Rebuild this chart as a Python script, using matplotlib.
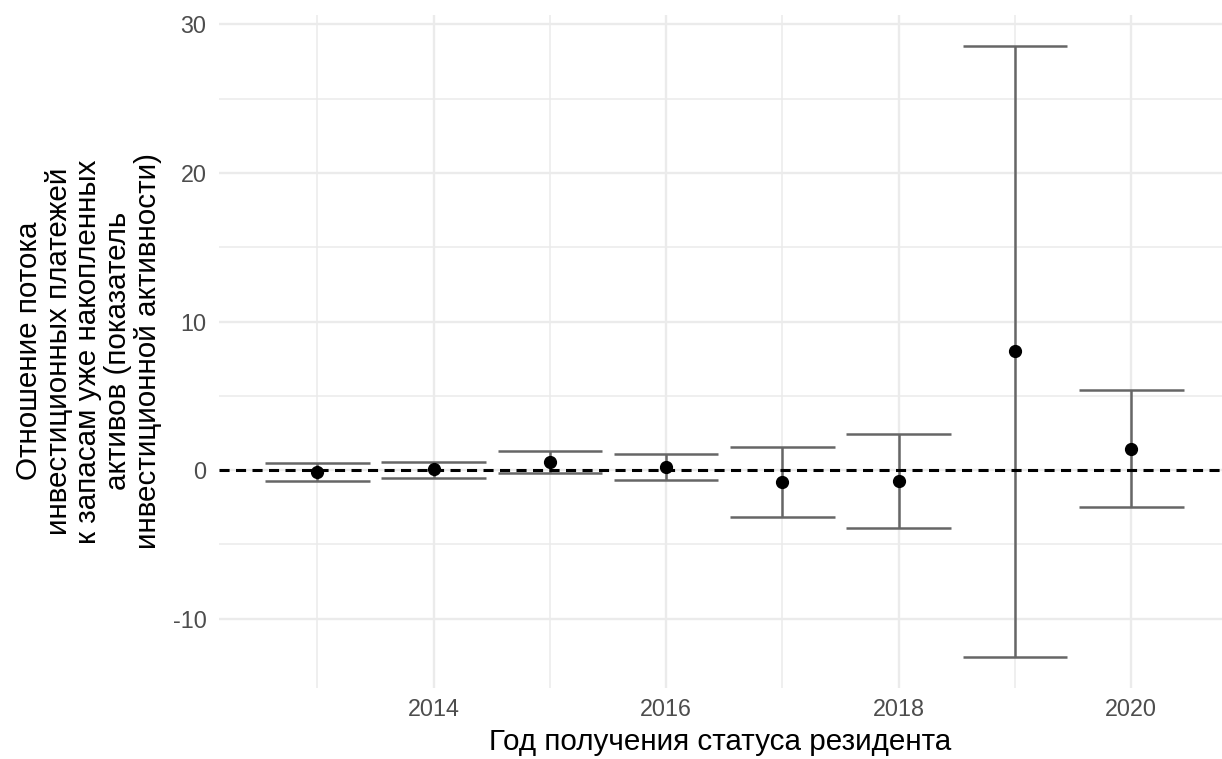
import matplotlib
matplotlib.use("Agg")
import matplotlib.pyplot as plt
from matplotlib.ticker import MultipleLocator

plt.rcParams['font.family'] = ['Liberation Sans', 'DejaVu Sans']
plt.rcParams['axes.unicode_minus'] = False

# Оценки по годам получения статуса резидента
years = [2013, 2014, 2015, 2016, 2017, 2018, 2019, 2020]
estimate = [-0.10, 0.05, 0.55, 0.22, -0.78, -0.76, 8.0, 1.43]
ci_low = [-0.70, -0.50, -0.18, -0.63, -3.17, -3.87, -12.55, -2.50]
ci_high = [0.45, 0.58, 1.30, 1.07, 1.56, 2.40, 28.55, 5.37]

fig = plt.figure(figsize=(12.22, 7.59), dpi=100)
ax = fig.add_axes([219 / 1222, (759 - 688) / 759, 1 - 219 / 1222, (688 - 14.5) / 759])

# сетка в стиле theme_minimal
ax.set_facecolor('white')
for s in ax.spines.values():
    s.set_visible(False)
ax.xaxis.set_major_locator(MultipleLocator(2))
ax.xaxis.set_minor_locator(MultipleLocator(1))
ax.yaxis.set_major_locator(MultipleLocator(10))
ax.yaxis.set_minor_locator(MultipleLocator(5))
ax.grid(which='major', color='#EBEBEB', linewidth=1.7)
ax.grid(which='minor', color='#EBEBEB', linewidth=1.1)
ax.set_axisbelow(True)
ax.tick_params(which='both', length=0)
ax.tick_params(axis='y', pad=9, labelsize=16.8, labelcolor='#4D4D4D')
ax.tick_params(axis='x', pad=7, labelsize=16.8, labelcolor='#4D4D4D')

# доверительные интервалы
half = 0.45
ax.vlines(years, ci_low, ci_high, color='#666666', linewidth=1.8, zorder=2)
ax.hlines(ci_low, [y - half for y in years], [y + half for y in years],
          color='#666666', linewidth=1.8, zorder=2)
ax.hlines(ci_high, [y - half for y in years], [y + half for y in years],
          color='#666666', linewidth=1.8, zorder=2)

zero = ax.axhline(0, color='black', linewidth=2.2, linestyle='--', zorder=3)
zero.set_dashes([3.3, 2.1])

ax.plot(years, estimate, 'o', color='black', markersize=8.5, zorder=4)

ax.set_xlim(2012.155, 2020.78)
ax.set_ylim(-14.66, 30.66)

ax.set_xlabel('Год получения статуса резидента', fontsize=21.3, labelpad=5)
ax.set_ylabel('Отношение потока\nинвестиционных платежей\nк запасам уже накопленных\n'
              'активов (показатель\nинвестиционной активности)',
              fontsize=21.3, linespacing=1.07, labelpad=8)

fig.savefig('out.png', dpi=100)
